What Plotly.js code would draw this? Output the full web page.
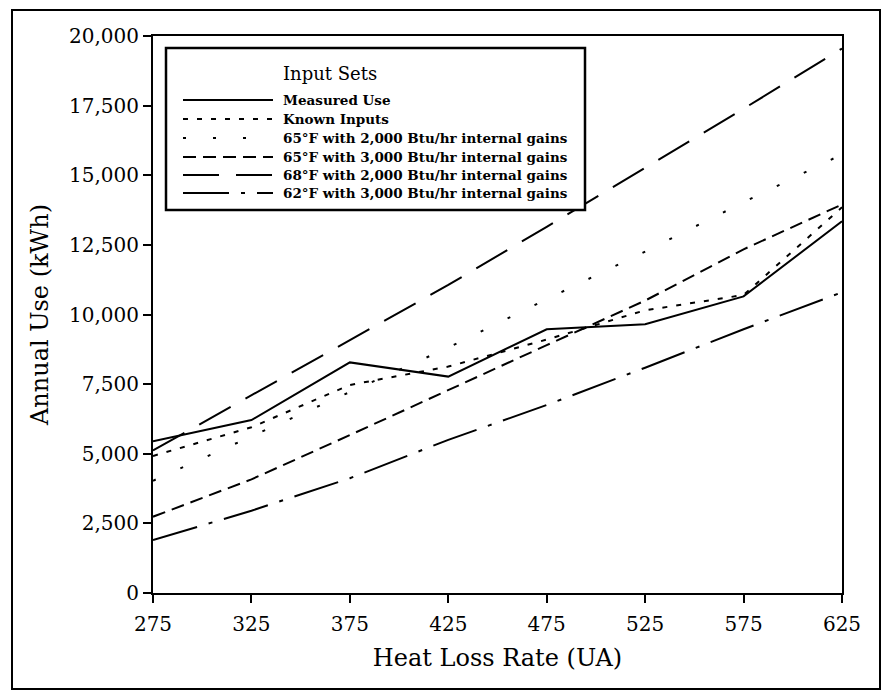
<!DOCTYPE html>
<html>
<head>
<meta charset="utf-8">
<script src="https://cdn.plot.ly/plotly-3.0.1.min.js"></script>
<style>
  html, body { margin: 0; padding: 0; background: #fff; }
  #wrap { position: relative; width: 886px; height: 692px; }
  #chart { position: absolute; left: 0; top: 0; width: 886px; height: 692px; }
  #frame { position: absolute; left: 11px; top: 9px; width: 866px; height: 677px;
           border: 2px solid #000; pointer-events: none; }
</style>
</head>
<body>
<div id="wrap">
  <div id="chart"></div>
  <div id="frame"></div>
</div>
<script>
// ---- data ----
const heatLossRate = [275, 325, 375, 425, 475, 525, 575, 625];
const measuredUse   = [5450, 6210, 8280, 7770, 9470, 9650, 10650, 13350];
const knownInputs   = [4920, 5950, 7470, 8130, 9100, 10150, 10700, 13850];
const f65g2000      = [4030, 5620, 7220, 8810, 10550, 12260, 14030, 15750];
const f65g3000      = [2740, 4080, 5670, 7300, 8900, 10500, 12340, 13950];
const f68g2000      = [5120, 7100, 9080, 11060, 13150, 15270, 17390, 19550];
const f62g3000      = [1900, 2955, 4120, 5500, 6750, 8090, 9470, 10800];
const seriesNames = [
  "Measured Use",
  "Known Inputs",
  "65°F with 2,000 Btu/hr internal gains",
  "65°F with 3,000 Btu/hr internal gains",
  "68°F with 2,000 Btu/hr internal gains",
  "62°F with 3,000 Btu/hr internal gains"
];
const yTickVals = [0, 2500, 5000, 7500, 10000, 12500, 15000, 17500, 20000];
const legendTitle = "Input Sets";

// ---- styles ----
const seriesValues = [measuredUse, knownInputs, f65g2000, f65g3000, f68g2000, f62g3000];
const dashes = ["solid", "5px,9px", "3px,27px", "13px,7px", "36px,17px", "46px,12px,4px,12px"];
const FONT = "DejaVu Serif, serif";

const traces = seriesValues.map((v, i) => ({
  type: "scatter", mode: "lines", x: heatLossRate, y: v, name: seriesNames[i],
  line: { color: "#000", width: 2, dash: dashes[i] },
  showlegend: false, hoverinfo: "skip"
}));

// plot area in pixels
const L = 153, R = 842, T = 36, B = 593;
const px = x => (x - L) / (R - L);
const py = y => (B - y) / (B - T);

const shapes = [{
  type: "rect", xref: "paper", yref: "paper",
  x0: px(166), x1: px(585), y0: py(210), y1: py(48),
  line: { color: "#000", width: 2.5 }, fillcolor: "#fff", layer: "above"
}];
const annotations = [{
  xref: "paper", yref: "paper", x: px(330), y: py(74), xanchor: "center", yanchor: "middle",
  text: legendTitle, showarrow: false, font: { family: FONT, size: 18, color: "#000" }
}];
const itemY = [100, 119, 138, 157, 175, 193];
seriesNames.forEach((n, i) => {
  shapes.push({
    type: "line", xref: "paper", yref: "paper",
    x0: px(183), x1: px(273), y0: py(itemY[i]), y1: py(itemY[i]),
    line: { color: "#000", width: 2, dash: dashes[i] }, layer: "above"
  });
  annotations.push({
    xref: "paper", yref: "paper", x: px(281), y: py(itemY[i]), xanchor: "left", yanchor: "middle",
    text: "<b>" + n + "</b>", showarrow: false, font: { family: FONT, size: 13.5, color: "#000" }
  });
});

const layout = {
  width: 886, height: 692,
  margin: { l: L, r: 886 - R, t: T, b: 692 - B, pad: 0 },
  paper_bgcolor: "#fff", plot_bgcolor: "#fff",
  font: { family: FONT, color: "#000", size: 20 },
  showlegend: false,
  xaxis: {
    range: [275, 625], tickvals: heatLossRate, ticktext: heatLossRate.map(String),
    showgrid: false, zeroline: false, showline: true, mirror: true,
    linecolor: "#000", linewidth: 2, ticks: "outside", ticklen: 8, tickwidth: 2, tickcolor: "#000",
    ticklabelstandoff: 4,
    tickfont: { family: FONT, size: 20 },
    title: { text: "Heat Loss Rate (UA)", font: { family: FONT, size: 24 }, standoff: 14 }
  },
  yaxis: {
    range: [0, 20000], tickvals: yTickVals, tickformat: ",d",
    showgrid: false, zeroline: false, showline: true, mirror: true,
    linecolor: "#000", linewidth: 2, ticks: "outside", ticklen: 8, tickwidth: 2, tickcolor: "#000",
    tickfont: { family: FONT, size: 20 },
    title: { text: "Annual Use (kWh)", font: { family: FONT, size: 24 }, standoff: 14 }
  },
  shapes: shapes,
  annotations: annotations
};

Plotly.newPlot("chart", traces, layout, { staticPlot: true, displayModeBar: false });
</script>
</body>
</html>
